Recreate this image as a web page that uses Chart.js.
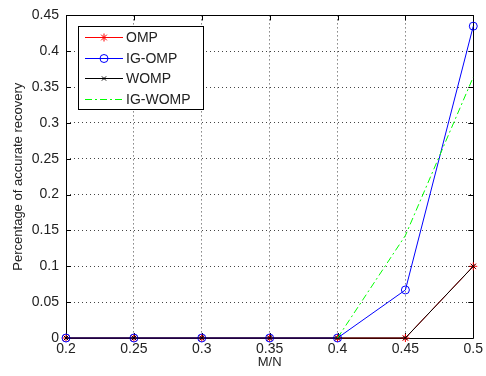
<!DOCTYPE html>
<html>
<head>
<meta charset="utf-8">
<script src="https://cdn.jsdelivr.net/npm/chart.js@4/dist/chart.umd.min.js"></script>
<style>
  html, body { margin: 0; padding: 0; background: #fff; }
  #wrap { width: 486px; height: 376px; position: relative; }
</style>
</head>
<body>
<div id="wrap"><canvas id="recoveryChart"></canvas></div>
<script>
// data
const ratios = [0.2, 0.25, 0.3, 0.35, 0.4, 0.45, 0.5];
const omp = [0, 0, 0, 0, 0, 0, 0.1];
const igOmp = [0, 0, 0, 0, 0, 0.067, 0.435];
const womp = [0, 0, 0, 0, 0, 0, 0.1];
const igWomp = [null, null, null, null, 0, 0.143, 0.364];

const xTicks = [0.2, 0.25, 0.3, 0.35, 0.4, 0.45, 0.5];
const xTickLabels = ['0.2', '0.25', '0.3', '0.35', '0.4', '0.45', '0.5'];
const yTicks = [0, 0.05, 0.1, 0.15, 0.2, 0.25, 0.3, 0.35, 0.4, 0.45];
const yTickLabels = ['0', '0.05', '0.1', '0.15', '0.2', '0.25', '0.3', '0.35', '0.4', '0.45'];

const FONT = "'Liberation Sans', Arial, sans-serif";

function toPoints(values) {
    return ratios.map((r, i) => ({ x: r, y: values[i] }));
}

// little marker painter, used by the legend
function drawMarker(c, style, x, y, r, color) {
    c.save();
    c.strokeStyle = color;
    c.lineWidth = 1;
    c.beginPath();
    if (style === 'circle') {
        c.arc(x, y, r, 0, Math.PI * 2);
    } else {
        if (style === 'star' || style === 'cross') {
            c.moveTo(x - r, y); c.lineTo(x + r, y);
            c.moveTo(x, y - r); c.lineTo(x, y + r);
        }
        if (style === 'star' || style === 'crossRot') {
            const d = r * Math.SQRT1_2;
            c.moveTo(x - d, y - d); c.lineTo(x + d, y + d);
            c.moveTo(x - d, y + d); c.lineTo(x + d, y - d);
        }
    }
    c.stroke();
    c.restore();
}

// matlab-like box, inward ticks and legend
const matlabFrame = {
    id: 'matlabFrame',
    beforeDatasetsDraw(chart) {
        const c = chart.ctx;
        const a = chart.chartArea;
        const xs = chart.scales.x;
        const ys = chart.scales.y;
        const tl = 5;

        c.save();
        c.strokeStyle = '#000';
        c.lineWidth = 1;
        c.beginPath();
        xTicks.forEach(v => {
            const px = Math.round(xs.getPixelForValue(v)) + 0.5;
            c.moveTo(px, a.bottom); c.lineTo(px, a.bottom - tl);
            c.moveTo(px, a.top); c.lineTo(px, a.top + tl);
        });
        yTicks.forEach(v => {
            const py = Math.round(ys.getPixelForValue(v)) + 0.5;
            c.moveTo(a.left, py); c.lineTo(a.left + tl, py);
            c.moveTo(a.right, py); c.lineTo(a.right - tl, py);
        });
        c.stroke();

        // box
        c.beginPath();
        c.rect(Math.round(a.left) + 0.5, Math.round(a.top) + 0.5,
               Math.round(a.right - a.left), Math.round(a.bottom - a.top));
        c.stroke();
        c.restore();
    },
    afterDatasetsDraw(chart) {
        const c = chart.ctx;

        // legend
        c.save();
        const lx = 78, ly = 26, lw = 125, lh = 83;
        c.fillStyle = '#fff';
        c.fillRect(lx, ly, lw, lh);
        c.strokeStyle = '#000';
        c.lineWidth = 1;
        c.strokeRect(lx + 0.5, ly + 0.5, lw, lh);
        c.font = '14px ' + FONT;
        c.textBaseline = 'middle';
        c.textAlign = 'left';
        chart.data.datasets.forEach((ds, i) => {
            const ry = Math.round(ly + 11 + i * 20.7) + 0.5;
            c.save();
            c.strokeStyle = ds.borderColor;
            c.lineWidth = 1;
            c.setLineDash(ds.borderDash || []);
            c.beginPath();
            c.moveTo(85, ry); c.lineTo(123, ry);
            c.stroke();
            c.restore();
            if (ds.pointRadius > 0) {
                drawMarker(c, ds.pointStyle, 104, ry, ds.pointRadius, ds.borderColor);
            }
            c.fillStyle = '#222';
            c.fillText(ds.label, 126, ry + 1);
        });
        c.restore();
    }
};

const ctx = document.getElementById('recoveryChart');

new Chart(ctx, {
    type: 'line',
    data: {
        datasets: [
            {
                label: 'OMP',
                data: toPoints(omp),
                borderColor: '#ff0000',
                backgroundColor: 'rgba(0,0,0,0)',
                borderWidth: 1,
                pointStyle: 'star',
                pointRadius: 4,
                pointBorderWidth: 1,
                clip: false,
                order: 4
            },
            {
                label: 'IG-OMP',
                data: toPoints(igOmp),
                borderColor: '#0000ff',
                backgroundColor: 'rgba(0,0,0,0)',
                borderWidth: 1,
                pointStyle: 'circle',
                pointRadius: 4,
                pointBorderWidth: 1,
                clip: false,
                order: 3
            },
            {
                label: 'WOMP',
                data: toPoints(womp),
                borderColor: '#000000',
                backgroundColor: 'rgba(0,0,0,0)',
                borderWidth: 1,
                pointStyle: 'crossRot',
                pointRadius: 3,
                pointBorderWidth: 1,
                clip: false,
                order: 2
            },
            {
                label: 'IG-WOMP',
                data: toPoints(igWomp),
                borderColor: '#00ff00',
                backgroundColor: 'rgba(0,0,0,0)',
                borderWidth: 1,
                borderDash: [7, 3, 2, 3],
                pointRadius: 0,
                clip: false,
                order: 1
            }
        ]
    },
    options: {
        responsive: true,
        maintainAspectRatio: false,
        animation: false,
        events: [],
        layout: {
            padding: { left: 0, top: 14, right: 9, bottom: 0 }
        },
        plugins: {
            legend: { display: false },
            tooltip: { enabled: false }
        },
        scales: {
            x: {
                type: 'linear',
                min: 0.2,
                max: 0.5,
                afterBuildTicks: axis => { axis.ticks = xTicks.map(v => ({ value: v })); },
                afterFit: axis => { axis.height = 38; },
                ticks: {
                    autoSkip: false,
                    maxRotation: 0,
                    padding: 3,
                    color: '#222',
                    font: { family: FONT, size: 14 },
                    callback: (v, i) => xTickLabels[i]
                },
                grid: {
                    color: '#444',
                    lineWidth: 1,
                    drawTicks: false
                },
                border: { display: false, dash: [1, 3] },
                title: {
                    display: true,
                    text: 'M/N',
                    color: '#222',
                    font: { family: FONT, size: 13 },
                    padding: { top: 0, bottom: 6 }
                }
            },
            y: {
                min: 0,
                max: 0.45,
                afterBuildTicks: axis => { axis.ticks = yTicks.map(v => ({ value: v })); },
                afterFit: axis => { axis.width = 66; },
                ticks: {
                    autoSkip: false,
                    padding: 7,
                    color: '#222',
                    font: { family: FONT, size: 14 },
                    callback: (v, i) => yTickLabels[i]
                },
                grid: {
                    color: '#444',
                    lineWidth: 1,
                    drawTicks: false
                },
                border: { display: false, dash: [1, 3] },
                title: {
                    display: true,
                    text: 'Percentage of accurate recovery',
                    color: '#222',
                    font: { family: FONT, size: 13 },
                    padding: { top: 11, bottom: 0 }
                }
            }
        }
    },
    plugins: [matlabFrame]
});
</script>
</body>
</html>
